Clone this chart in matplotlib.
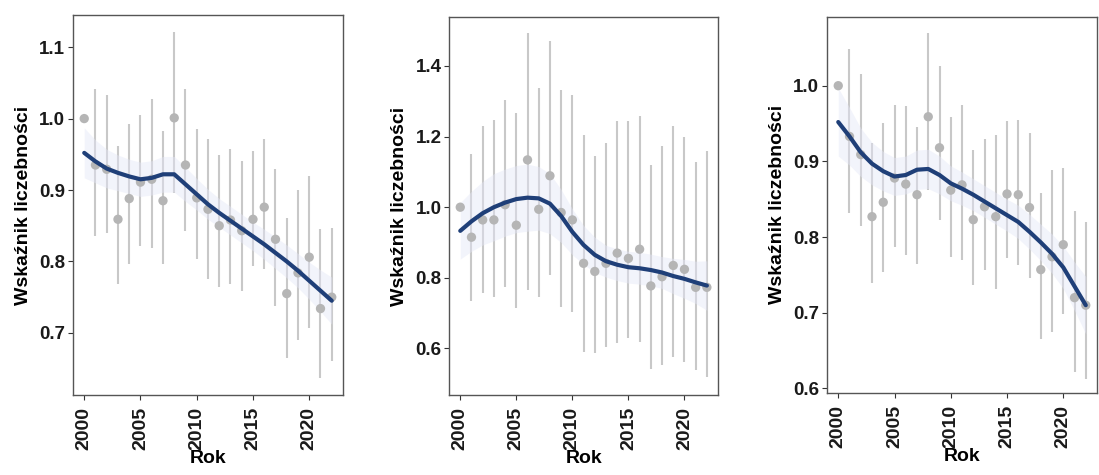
import numpy as np
import matplotlib
matplotlib.use("Agg")
import matplotlib.pyplot as plt

plt.rcParams["font.family"] = ["Liberation Sans", "DejaVu Sans"]

years = np.arange(2000, 2023)

# panel 1
idx1 = [1.000, 0.935, 0.929, 0.859, 0.888, 0.911, 0.915, 0.885, 1.001, 0.935, 0.889, 0.873,
        0.850, 0.858, 0.843, 0.859, 0.876, 0.831, 0.755, 0.784, 0.806, 0.734, 0.750]
lo1 = [1.000, 0.836, 0.840, 0.768, 0.796, 0.821, 0.819, 0.796, 0.896, 0.843, 0.804, 0.775,
       0.764, 0.768, 0.759, 0.793, 0.789, 0.737, 0.665, 0.690, 0.707, 0.637, 0.660]
hi1 = [1.000, 1.042, 1.033, 0.962, 0.993, 1.005, 1.027, 0.983, 1.121, 1.041, 0.986, 0.971,
       0.949, 0.958, 0.941, 0.955, 0.972, 0.929, 0.861, 0.900, 0.920, 0.845, 0.847]
trend1 = [0.952, 0.940, 0.930, 0.924, 0.919, 0.915, 0.917, 0.922, 0.922, 0.908, 0.894, 0.880,
          0.868, 0.857, 0.846, 0.835, 0.824, 0.812, 0.800, 0.787, 0.773, 0.759, 0.745]
band1 = [0.035, 0.030, 0.027, 0.025, 0.024, 0.024, 0.024, 0.025, 0.025, 0.024, 0.022, 0.021,
         0.020, 0.020, 0.020, 0.020, 0.021, 0.022, 0.023, 0.024, 0.026, 0.029, 0.033]

# panel 2
idx2 = [1.000, 0.915, 0.964, 0.964, 1.007, 0.949, 1.134, 0.994, 1.089, 0.985, 0.964, 0.841,
        0.818, 0.841, 0.870, 0.855, 0.881, 0.777, 0.803, 0.835, 0.824, 0.773, 0.773]
lo2 = [1.000, 0.733, 0.758, 0.747, 0.775, 0.714, 0.766, 0.747, 0.808, 0.718, 0.704, 0.591,
       0.586, 0.605, 0.614, 0.629, 0.619, 0.543, 0.553, 0.577, 0.562, 0.539, 0.520]
hi2 = [1.000, 1.151, 1.229, 1.248, 1.304, 1.267, 1.493, 1.337, 1.470, 1.333, 1.319, 1.205,
       1.144, 1.181, 1.243, 1.243, 1.257, 1.120, 1.172, 1.229, 1.200, 1.129, 1.158]
trend2 = [0.933, 0.960, 0.983, 1.000, 1.013, 1.023, 1.027, 1.025, 1.010, 0.975, 0.930, 0.893,
          0.865, 0.847, 0.837, 0.830, 0.827, 0.822, 0.815, 0.805, 0.797, 0.787, 0.778]
band2 = [0.080, 0.085, 0.090, 0.095, 0.095, 0.095, 0.095, 0.090, 0.085, 0.075, 0.065, 0.055,
         0.050, 0.045, 0.045, 0.045, 0.045, 0.045, 0.045, 0.050, 0.055, 0.060, 0.070]

# panel 3
idx3 = [1.000, 0.933, 0.909, 0.827, 0.846, 0.878, 0.870, 0.856, 0.959, 0.918, 0.862, 0.869,
        0.823, 0.840, 0.827, 0.857, 0.856, 0.839, 0.757, 0.774, 0.790, 0.720, 0.710]
lo3 = [1.000, 0.832, 0.814, 0.739, 0.754, 0.787, 0.776, 0.765, 0.862, 0.823, 0.774, 0.770,
       0.737, 0.757, 0.732, 0.772, 0.763, 0.746, 0.666, 0.675, 0.699, 0.622, 0.613]
hi3 = [1.000, 1.048, 1.015, 0.924, 0.951, 0.975, 0.973, 0.946, 1.070, 1.026, 0.959, 0.975,
       0.915, 0.929, 0.935, 0.953, 0.955, 0.937, 0.858, 0.889, 0.891, 0.834, 0.820]
trend3 = [0.952, 0.933, 0.912, 0.897, 0.887, 0.880, 0.882, 0.889, 0.890, 0.882, 0.871, 0.864,
          0.856, 0.847, 0.838, 0.829, 0.820, 0.807, 0.793, 0.778, 0.760, 0.735, 0.710]
band3 = [0.045, 0.038, 0.032, 0.028, 0.026, 0.025, 0.025, 0.026, 0.026, 0.025, 0.023, 0.022,
         0.021, 0.021, 0.021, 0.021, 0.022, 0.023, 0.024, 0.026, 0.028, 0.032, 0.038]

panels = [
    (idx1, lo1, hi1, trend1, band1, (0.613, 1.145), [0.7, 0.8, 0.9, 1.0, 1.1]),
    (idx2, lo2, hi2, trend2, band2, (0.468, 1.539), [0.6, 0.8, 1.0, 1.2, 1.4]),
    (idx3, lo3, hi3, trend3, band3, (0.594, 1.091), [0.6, 0.7, 0.8, 0.9, 1.0]),
]
boxes = [
    [0.0664, 0.1684, 0.2457, 0.800],
    [0.4086, 0.1684, 0.2448, 0.796],
    [0.7525, 0.1726, 0.2457, 0.792],
]

fig = plt.figure(figsize=(10.99, 4.75), dpi=100)
for box, (idx, lo, hi, trend, band, ylim, yt) in zip(boxes, panels):
    ax = fig.add_axes(box)
    trend, band = np.array(trend), np.array(band)
    ax.vlines(years, lo, hi, color="#c8c8c8", linewidth=1.5, zorder=1)
    ax.fill_between(years, trend - band, trend + band, color="#e4e7f7",
                    alpha=0.45, linewidth=0, zorder=2)
    ax.scatter(years, idx, s=45, color="#b5b5b5", edgecolors="none", zorder=3)
    ax.plot(years, trend, color="#1f3f78", linewidth=3.0, zorder=4,
            solid_capstyle="round")
    ax.set_xlim(1999.0, 2023.0)
    ax.set_ylim(*ylim)
    ax.set_xticks([2000, 2005, 2010, 2015, 2020])
    ax.set_yticks(yt)
    ax.set_yticklabels([f"{v:.1f}" for v in yt])
    ax.tick_params(axis="x", labelrotation=90, labelsize=14, length=3.5,
                   color="#333333", pad=5)
    ax.tick_params(axis="y", labelsize=13.5, length=3.5, color="#333333", pad=2)
    for lab in ax.get_xticklabels() + ax.get_yticklabels():
        lab.set_fontweight("bold")
        lab.set_color("#1a1a1a")
    for s in ax.spines.values():
        s.set_color("#555555")
        s.set_linewidth(1.0)
    ax.set_xlabel("Rok", fontsize=14, fontweight="bold", labelpad=0)
    ax.set_ylabel("Wskaźnik liczebności", fontsize=14, fontweight="bold",
                  labelpad=5)

fig.savefig("out.png", dpi=100, facecolor="white")
